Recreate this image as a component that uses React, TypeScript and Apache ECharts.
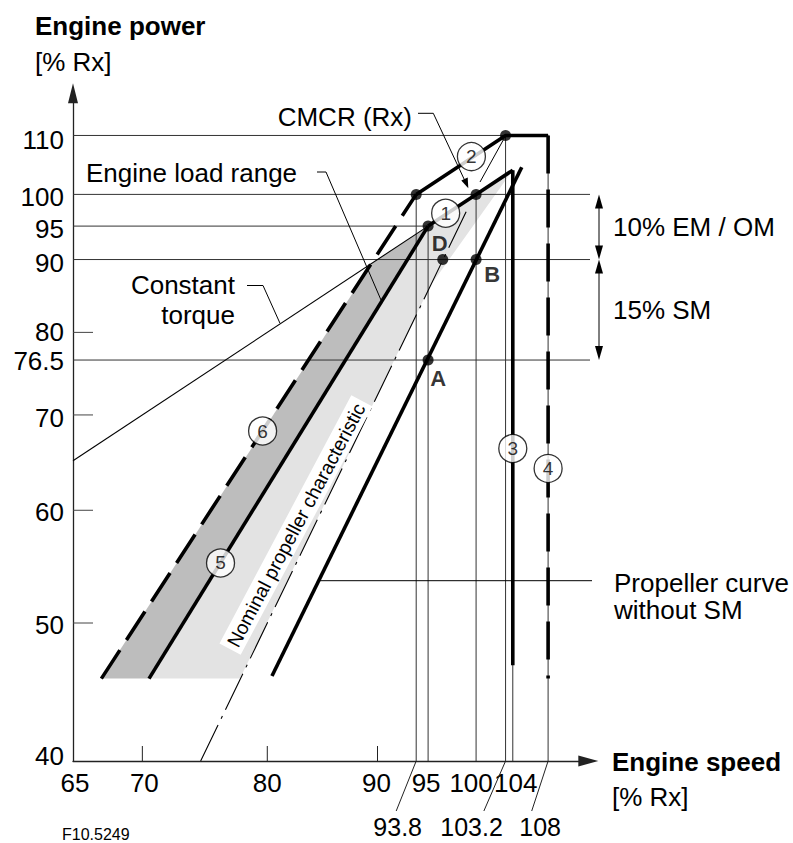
import React, { useEffect, useRef } from "react";
import * as echarts from "echarts";

const FONT = '"Liberation Sans", Arial, Helvetica, sans-serif';

// axis extents (log-log diagram)
const X_MIN = 65;
const X_MAX = 112.74;
const Y_MIN = 40;
const Y_MAX = 117.76;

// tick labels
const xTickLabels = [65, 70, 80, 90, 95, 100, 104];
const xTickMarks = [70, 80, 90];
const xExtraLabels = [93.8, 103.2, 108];
const yTickLabels = [110, 100, 95, 90, 80, 76.5, 70, 60, 50, 40];
const yTickMarks = [80, 70, 60, 50];

// curves [speed %, power %]
const line6 = [[67, 45.7], [93.8, 100]];
const line2 = [[93.8, 100], [103.2, 110], [108, 110]];
const line5 = [[70.5, 45.7], [95, 95]];
const line1 = [[95, 95], [100, 100], [104, 104]];
const line3 = [[104, 104], [104, 46.7]];
const line4 = [[108, 110], [108, 45.7]];
const propellerNoSM = [[80.4, 45.9], [105, 104.5]];
const nominalPropeller = [[74.5, 40], [99, 97.4]];
const constantTorque = [[65, 65], [95, 95]];

// regions
const darkRegion = [[67, 45.7], [70.5, 45.7], [95, 95], [89.5, 89.5]];
const lightRegion = [[70.5, 45.7], [95, 95], [104, 104], [95.2, 86.2], [77.7, 45.7]];

// reference lines
const hLines = [
  [[65, 110], [108, 110]],
  [[65, 100], [115.2, 100]],
  [[65, 95], [95, 95]],
  [[65, 90], [115.2, 90]],
  [[65, 76.5], [115.2, 76.5]],
];
const vLines = [
  [[93.8, 40], [93.8, 100]],
  [[95, 40], [95, 95]],
  [[100, 40], [100, 100]],
  [[103.2, 40], [103.2, 110]],
  [[104, 40], [104, 104]],
  [[108, 40], [108, 110]],
];

// points
const dots = [[93.8, 100], [100, 100], [103.2, 110], [95, 95]];
const letterPoints = [
  { name: "D", value: [96.5, 90], offset: [-3, -16] },
  { name: "B", value: [100, 90], offset: [16, 15] },
  { name: "A", value: [95, 76.5], offset: [10, 18] },
];
const circles = [
  { name: "1", value: [96.8, 97] },
  { name: "2", value: [99.5, 106.3] },
  { name: "3", value: [104, 66.3] },
  { name: "4", value: [108, 64.2] },
  { name: "5", value: [76.1, 55.1] },
  { name: "6", value: [79.6, 68.2] },
];

const yLabelDy: Record<string, number> = { "110": 5, "100": 3, "95": 3, "90": 3, "80": 0, "76.5": 1, "70": 3, "60": 2, "50": 2, "40": -5 };
const xLabelDx: Record<string, number> = { "65": 2, "70": 2, "80": 0, "90": -1, "95": -2, "100": -5, "104": 3 };
// slanted leader: [bottom dx, label dx]
const xExtraDx: Record<string, number[]> = { "93.8": [-20, -18.5], "103.2": [-21.7, -34], "108": [-16.4, -8] };

export default function App() {
  const ref = useRef<HTMLDivElement>(null);
  useEffect(() => {
    const chart = echarts.init(ref.current!, undefined, { renderer: "svg" });

    const thin = (data: number[][], extra: any = {}) => ({
      type: "line", data, symbol: "none", clip: false, silent: true, z: 2,
      lineStyle: { color: "#333", width: 1 }, ...extra,
    });
    const thick = (data: number[][], extra: any = {}) => ({
      type: "line", data, symbol: "none", clip: false, silent: true, z: 4,
      lineStyle: { color: "#000", width: 3.6 }, ...extra,
    });
    const region = (pts: number[][], color: string) => ({
      type: "custom", silent: true, z: 1, clip: false,
      data: [pts[0]],
      renderItem: (_p: any, api: any) => ({
        type: "polygon",
        shape: { points: pts.map((p) => api.coord(p)) },
        style: { fill: color },
      }),
    });

    const series: any[] = [
      region(lightRegion, "#e3e3e3"),
      region(darkRegion, "#bdbdbd"),
      ...hLines.map((d) => thin(d)),
      ...vLines.map((d) => thin(d)),
      thin(constantTorque, { lineStyle: { color: "#000", width: 1.1 } }),
      thin(nominalPropeller, { lineStyle: { color: "#000", width: 1.1, type: [40, 7, 3, 7] } }),
      thick(line6, { lineStyle: { color: "#000", width: 3.6, type: [34, 12] } }),
      thick(line2),
      thick(line5),
      thick(line1),
      thick(line3),
      thick(line4, { lineStyle: { color: "#000", width: 3.6, type: [38, 16] } }),
      thick(propellerNoSM),
      {
        type: "scatter", data: dots, symbolSize: 11, z: 6, silent: true,
        itemStyle: { color: "#000" },
      },
      {
        type: "scatter", z: 6, silent: true, symbolSize: 11,
        itemStyle: { color: "#000" },
        data: letterPoints.map((p) => ({
          name: p.name, value: p.value,
          label: { show: true, formatter: "{b}", offset: p.offset, position: "inside", color: "#000", fontFamily: FONT, fontSize: 22, fontWeight: "bold" },
        })),
      },
      {
        type: "scatter", z: 7, silent: true, symbolSize: 28,
        itemStyle: { color: "#fff", borderColor: "#000", borderWidth: 1.3 },
        label: { show: true, formatter: "{b}", position: "inside", color: "#000", fontFamily: FONT, fontSize: 19 },
        data: circles,
      },
    ];

    chart.setOption({
      animation: false,
      backgroundColor: "#fff",
      grid: { left: 73, top: 93.3, width: 515.3, height: 667.7 },
      xAxis: {
        type: "log", logBase: 10, min: X_MIN, max: X_MAX,
        axisLine: { show: true, lineStyle: { color: "#222", width: 1.3 }, symbol: ["none", "triangle"], symbolSize: [11, 20] },
        axisTick: { show: false }, axisLabel: { show: false }, splitLine: { show: false },
      },
      yAxis: {
        type: "log", logBase: 10, min: Y_MIN, max: Y_MAX,
        axisLine: { show: true, lineStyle: { color: "#222", width: 1.3 }, symbol: ["none", "triangle"], symbolSize: [10, 20] },
        axisTick: { show: false }, axisLabel: { show: false }, splitLine: { show: false },
      },
      series,
    });

    const px = (p: number[]) => chart.convertToPixel({ gridIndex: 0 }, p) as number[];
    const txt = (text: string, x: number, y: number, o: any = {}) => ({
      type: "text", z: 20, silent: true,
      style: {
        text, x, y, fill: "#000", font: `${o.weight || "normal"} ${o.size || 26}px ${FONT}`,
        align: o.align || "left", verticalAlign: "middle",
        textAlign: o.align || "left", textVerticalAlign: "middle",
      },
    });
    const seg = (pts: number[][], w = 1, color = "#333") => ({
      type: "polyline", z: 20, silent: true,
      shape: { points: pts },
      style: { stroke: color, lineWidth: w, fill: null },
    });
    const tri = (pts: number[][]) => ({
      type: "polygon", z: 20, silent: true, shape: { points: pts }, style: { fill: "#000" },
    });

    const axisY = px([X_MIN, Y_MIN])[1];
    const axisX = px([X_MIN, Y_MIN])[0];
    const g: any[] = [];

    yTickLabels.forEach((v) => {
      g.push(txt(String(v), 64, px([X_MIN, v])[1] + (yLabelDy[String(v)] || 0), { align: "right" }));
    });
    yTickMarks.forEach((v) => {
      const y = px([X_MIN, v])[1];
      g.push(seg([[axisX, y], [axisX + 20, y]], 1, "#444"));
    });
    xTickLabels.forEach((v) => {
      g.push(txt(String(v), px([v, Y_MIN])[0] + (xLabelDx[String(v)] || 0), 783, { align: "center" }));
    });
    xTickMarks.forEach((v) => {
      const x = px([v, Y_MIN])[0];
      g.push(seg([[x, axisY], [x, axisY - 15]], 1, "#222"));
    });
    xExtraLabels.forEach((v) => {
      const x = px([v, Y_MIN])[0];
      const d = xExtraDx[String(v)];
      g.push(seg([[x, axisY], [x + d[0], 811]], 1, "#222"));
      g.push(txt(String(v), x + d[1], 827, { align: "center", size: 25 }));
    });

    // axis titles
    g.push(txt("Engine power", 35, 26, { weight: "bold" }));
    g.push(txt("[% Rx]", 35, 62));
    g.push(txt("Engine speed", 612, 762, { weight: "bold" }));
    g.push(txt("[% Rx]", 612, 797));
    g.push(txt("F10.5249", 62, 834, { size: 16 }));

    // annotations
    g.push(txt("Engine load range", 86, 173));
    g.push(seg([[317, 172], [326, 172], [381, 300]], 1, "#000"));
    g.push(txt("Constant", 235, 285, { align: "right" }));
    g.push(txt("torque", 235, 315, { align: "right" }));
    g.push(seg([[247, 285.5], [263, 285.5], [280, 323.3]], 1, "#000"));
    g.push(txt("CMCR (Rx)", 412, 117, { align: "right" }));
    g.push(seg([[418, 113.3], [433.3, 113.3], [465, 181]], 1, "#000"));
    g.push(tri([[468.3, 188.3], [461.3, 180.6], [467.7, 177.6]]));
    // leader from circle 2 toward line 1
    const p110 = px([103.2, 110]);
    g.push(seg([[p110[0] - 2, p110[1] + 4], [480, 182]], 1, "#000"));
    g.push(txt("Propeller curve", 614, 583));
    g.push(txt("without SM", 614, 610));
    g.push(seg([[319, 580.7], [592, 580.7]], 1, "#000"));

    // margins
    const yy100 = px([X_MIN, 100])[1];
    const yy90 = px([X_MIN, 90])[1];
    const yy765 = px([X_MIN, 76.5])[1];
    const ax = 599;
    const dbl = (y1: number, y2: number) => {
      g.push(seg([[ax, y1 + 10], [ax, y2 - 10]], 1, "#000"));
      g.push(tri([[ax, y1], [ax - 4, y1 + 14], [ax + 4, y1 + 14]]));
      g.push(tri([[ax, y2], [ax - 4, y2 - 14], [ax + 4, y2 - 14]]));
    };
    dbl(yy100, yy90);
    dbl(yy90, yy765);
    g.push(txt("10% EM / OM", 613, 227));
    g.push(txt("15% SM", 613, 310));

    // rotated label
    g.push({
      type: "text", z: 3, silent: true,
      x: 296, y: 525, rotation: (62 * Math.PI) / 180,
      style: {
        text: "Nominal propeller characteristic", x: 0, y: 0,
        font: `19.5px ${FONT}`, fill: "#000",
        align: "center", verticalAlign: "middle", textAlign: "center", textVerticalAlign: "middle",
        backgroundColor: "#fff", padding: [2, 4],
      },
    });

    chart.setOption({ graphic: g });

    return () => chart.dispose();
  }, []);
  return <div ref={ref} style={{ position: "absolute", left: 0, top: 0, width: 793, height: 843 }} />;
}
